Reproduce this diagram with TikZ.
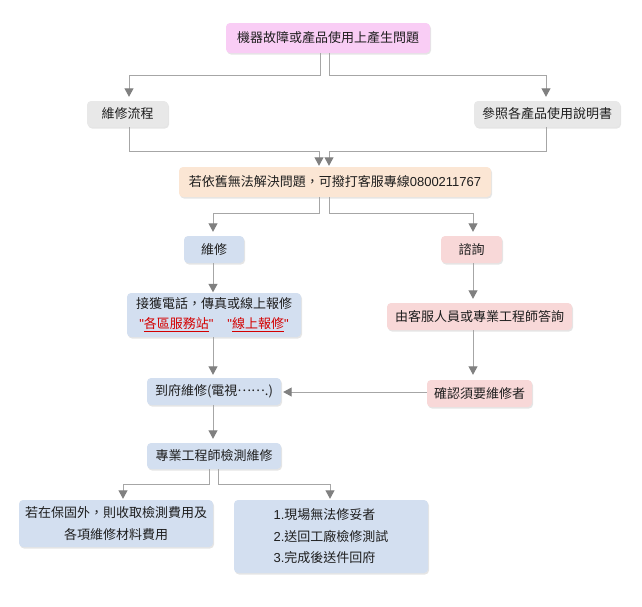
\documentclass[tikz,border=0pt]{standalone}
\usepackage{fontspec}
\setmainfont{Noto Sans CJK TC}
\newfontfamily\latinfont{Liberation Sans}
\usetikzlibrary{arrows.meta,shadows,calc}
\definecolor{pinkbox}{RGB}{249,205,245}
\definecolor{graybox}{RGB}{232,232,232}
\definecolor{orangebox}{RGB}{251,230,212}
\definecolor{bluebox}{RGB}{211,223,240}
\definecolor{redbox}{RGB}{248,216,216}
\definecolor{linegray}{RGB}{166,166,166}
\definecolor{tipgray}{RGB}{128,128,128}
\definecolor{linkred}{RGB}{212,0,0}
\definecolor{txt}{RGB}{30,30,30}
\newcommand{\qmark}{{\latinfont\symbol{34}}}
\begin{document}
\begin{tikzpicture}[x=1pt,y=-1pt,
  box/.style={rounded corners=4pt,inner sep=0pt,text=txt,
    font=\fontsize{13}{20}\selectfont,align=center,
    drop shadow={shadow xshift=1pt,shadow yshift=-1.5pt,fill=black,opacity=0.10}},
  conn/.style={draw=linegray,line width=1pt,shorten >=2pt,
    -{Triangle[width=9pt,length=8.5pt,color=tipgray,fill=tipgray]}}]
\useasboundingbox (0,0) rectangle (642,606);
\fill[white] (0,0) rectangle (642,606);

\node[box,fill=pinkbox,minimum width=204pt,minimum height=30pt] (top) at (328,38) {機器故障或產品使用上產生問題};
\node[box,fill=graybox,minimum width=81pt,minimum height=26pt] (flow) at (127.5,114) {維修流程};
\node[box,fill=graybox,minimum width=146pt,minimum height=26pt] (manual) at (547,114) {參照各產品使用說明書};
\node[box,fill=orangebox,minimum width=312pt,minimum height=30pt] (call) at (335,182) {若依舊無法解決問題，可撥打客服專線{\latinfont 0800211767}};
\node[box,fill=bluebox,minimum width=60pt,minimum height=27pt] (repair) at (214,249.5) {維修};
\node[box,fill=redbox,minimum width=61pt,minimum height=27pt] (consult) at (471.5,249.5) {諮詢};
\node[box,fill=bluebox,minimum width=174pt,minimum height=44pt] (recv) at (214,315) {接獲電話，傳真或線上報修\\[0pt]{\color{linkred}\qmark\underline{各區服務站}\qmark\hspace{14pt}\qmark\underline{線上報修}\qmark}};
\node[box,fill=redbox,minimum width=185pt,minimum height=27pt] (answer) at (479.5,316.5) {由客服人員或專業工程師答詢};
\node[box,fill=bluebox,minimum width=134pt,minimum height=27pt] (visit) at (214,391.5) {到府維修(電視\raisebox{0.3em}{……}.)};
\node[box,fill=redbox,minimum width=105pt,minimum height=27pt] (confirm) at (479.5,393.5) {確認須要維修者};
\node[box,fill=bluebox,minimum width=134pt,minimum height=26pt] (eng) at (214,456) {專業工程師檢測維修};
\node[box,fill=bluebox,minimum width=194pt,minimum height=47pt,font=\fontsize{13}{22}\selectfont] (outw) at (116,523.5) {若在保固外，則收取檢測費用及\\各項維修材料費用};
\node[box,fill=bluebox,minimum width=194pt,minimum height=73pt,align=left,font=\fontsize{13}{21.5}\selectfont] (back) at (331,536.5) {{\latinfont 1.}現場無法修妥者\\{\latinfont 2.}送回工廠檢修測試\\{\latinfont 3.}完成後送件回府};

% connectors
\draw[conn,shorten >=4pt] ([xshift=-8pt]top.south) -- ++(0,22) -| ([xshift=1.5pt]flow.north);
\draw[conn,shorten >=4pt] ([xshift=1pt]top.south) -- ++(0,22) -| ([xshift=-1pt]manual.north);
\draw[conn,shorten >=1pt] ([xshift=1.5pt]flow.south) -- ++(0,24) -| ([xshift=-16pt]call.north);
\draw[conn,shorten >=1pt] ([xshift=-1pt]manual.south) -- ++(0,24) -| ([xshift=-6pt]call.north);
\draw[conn,shorten >=4pt] ([xshift=-16pt]call.south) -- ++(0,16) -| ([xshift=-1pt]repair.north);
\draw[conn,shorten >=4pt] ([xshift=-6pt]call.south) -- ++(0,16) -| ([xshift=1.5pt]consult.north);
\draw[conn,shorten >=0.5pt] ([xshift=-1pt]repair.south) -- ([xshift=-1pt]repair.south |- recv.north);
\draw[conn,shorten >=4pt] ([xshift=1.5pt]consult.south) -- ([xshift=1.5pt]consult.south |- answer.north);
\draw[conn,shorten >=3pt] ([xshift=-1pt]recv.south) -- ([xshift=-1pt]recv.south |- visit.north);
\draw[conn,shorten >=5pt] ([xshift=1.5pt]consult.south |- answer.south) -- ([xshift=1.5pt]consult.south |- confirm.north);
\draw[conn,shorten >=2pt] (confirm.west |- 0,392) -- (visit.east |- 0,392);
\draw[conn,shorten >=4pt] ([xshift=-1pt]visit.south) -- ([xshift=-1pt]visit.south |- eng.north);
\draw[conn,shorten >=1pt] ([xshift=-5pt]eng.south) -- ++(0,15) -| ([xshift=7pt]outw.north);
\draw[conn,shorten >=1pt] ([xshift=4pt]eng.south) -- ++(0,15) -| ([xshift=-1pt]back.north);
\end{tikzpicture}
\end{document}
